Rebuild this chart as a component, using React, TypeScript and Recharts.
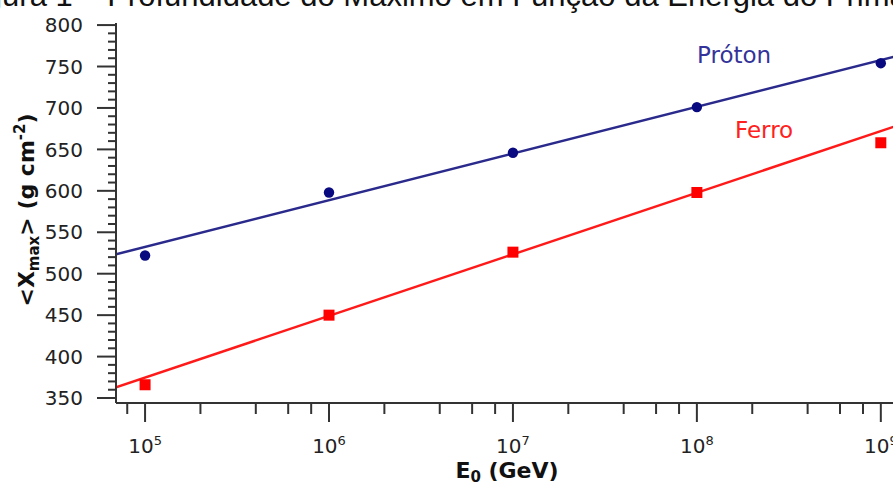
import React from 'react';
import { ComposedChart, Line, Scatter, XAxis, YAxis } from 'recharts';

// energies (GeV) of the simulated points
const energies = [1e5, 1e6, 1e7, 1e8, 1e9];
const protonXmax = [522, 598, 646, 701, 754];
const ironXmax = [366, 450, 526, 598, 658];

// fitted straight lines, read at the left and right edges of the plot
const fitEnergy = [69500, 1.24e9];
const protonFit = [523.5, 763];
const ironFit = [363, 679];

const xMajorTicks = [1e5, 1e6, 1e7, 1e8, 1e9];
const xMinorTicks = [
  8e4, 2e5, 4e5, 6e5, 8e5, 2e6, 4e6, 6e6, 8e6, 2e7, 4e7, 6e7, 8e7, 2e8, 4e8, 6e8, 8e8,
];
const yMajorTicks = [350, 400, 450, 500, 550, 600, 650, 700, 750, 800];
const yMinorStep = 10;

const X_DOMAIN: [number, number] = [fitEnergy[0], fitEnergy[1]];
const Y_DOMAIN: [number, number] = [344, 802.5];

const toRows = (xs: number[], vs: number[]) => xs.map((e, i) => ({ e, v: vs[i] }));

const protonPts = toRows(energies, protonXmax);
const ironPts = toRows(energies, ironXmax);
const protonLine = toRows(fitEnergy, protonFit);
const ironLine = toRows(fitEnergy, ironFit);

const yTicks: number[] = [];
for (let v = yMajorTicks[0]; v <= yMajorTicks[yMajorTicks.length - 1]; v += yMinorStep) yTicks.push(v);
const xTicks = [...xMinorTicks, ...xMajorTicks].sort((a, b) => a - b);

const AXIS = '#333';
const LABEL = '#222';

const XTick = (props: any) => {
  const { x, y, payload } = props;
  const val = payload.value;
  const major = xMajorTicks.includes(val);
  const exp = Math.round(Math.log10(val));
  return (
    <g>
      <line x1={x} x2={x} y1={y} y2={y + (major ? 19 : 11)} stroke={AXIS} strokeWidth={2} />
      {major && (
        <text x={x} y={y + 50} textAnchor="middle" fontSize={20} fill={LABEL}>
          10
          <tspan fontSize={13} dy={-8}>{exp}</tspan>
        </text>
      )}
    </g>
  );
};

const YTick = (props: any) => {
  const { x, y, payload } = props;
  const val = payload.value;
  const major = yMajorTicks.includes(val);
  return (
    <g>
      <line x1={x - (major ? 19 : 8)} x2={x} y1={y} y2={y} stroke={AXIS} strokeWidth={2} />
      {major && (
        <text x={x - 33} y={y} dy="0.36em" textAnchor="end" fontSize={20} fill={LABEL}>
          {val}
        </text>
      )}
    </g>
  );
};

const Circle = (props: any) => <circle cx={props.cx} cy={props.cy} r={5.2} fill="#0a0a80" />;
const Square = (props: any) => (
  <rect x={props.cx - 5.5} y={props.cy - 5.5} width={11} height={11} fill="#ff0000" />
);

export default function App() {
  return (
    <div
      style={{
        position: 'fixed',
        left: 0,
        top: 0,
        width: 893,
        height: 484,
        overflow: 'hidden',
        background: '#fff',
        fontFamily: '"DejaVu Sans", sans-serif',
      }}
    >
      <div
        style={{
          position: 'absolute',
          left: -41,
          top: -20,
          fontFamily: '"Liberation Sans", Arial, sans-serif',
          fontSize: 31,
          lineHeight: '31px',
          whiteSpace: 'nowrap',
          color: '#111',
        }}
      >
        Figura 1 – Profundidade do Máximo em Função da Energia do Primário
      </div>
      <div style={{ position: 'absolute', left: 0, top: 0 }}>
        <ComposedChart width={920} height={484} margin={{ top: 23, right: 22, bottom: 0, left: 0 }}>
          <XAxis
            xAxisId="main"
            dataKey="e"
            type="number"
            scale="log"
            domain={X_DOMAIN}
            allowDataOverflow
            ticks={xTicks}
            interval={0}
            tick={<XTick />}
            tickLine={false}
            tickSize={0}
            tickMargin={0}
            height={81}
            axisLine={{ stroke: AXIS, strokeWidth: 2 }}
          />
          <XAxis
            xAxisId="top"
            orientation="top"
            dataKey="e"
            type="number"
            scale="log"
            domain={X_DOMAIN}
            allowDataOverflow
            tick={false}
            tickLine={false}
            height={0}
            axisLine={{ stroke: '#555', strokeWidth: 2 }}
          />
          <YAxis
            dataKey="v"
            type="number"
            domain={Y_DOMAIN}
            allowDataOverflow
            ticks={yTicks}
            interval={0}
            tick={<YTick />}
            tickLine={false}
            tickSize={0}
            tickMargin={0}
            width={116}
            axisLine={{ stroke: AXIS, strokeWidth: 2 }}
          />
          <Line
            xAxisId="main"
            data={protonLine}
            dataKey="v"
            stroke="#2a2a8c"
            strokeWidth={2.5}
            dot={false}
            isAnimationActive={false}
          />
          <Line
            xAxisId="main"
            data={ironLine}
            dataKey="v"
            stroke="#ff1a1a"
            strokeWidth={2.5}
            dot={false}
            isAnimationActive={false}
          />
          <Scatter xAxisId="main" data={protonPts} dataKey="v" shape={<Circle />} isAnimationActive={false} />
          <Scatter xAxisId="main" data={ironPts} dataKey="v" shape={<Square />} isAnimationActive={false} />
        </ComposedChart>
      </div>
      <svg
        width={893}
        height={484}
        style={{ position: 'absolute', left: 0, top: 0, pointerEvents: 'none' }}
      >
        <text x={697} y={63} fontSize={23} fill="#33339a">
          Próton
        </text>
        <text x={735} y={138} fontSize={23} fill="#ff2020">
          Ferro
        </text>
        <text x={507} y={478} textAnchor="middle" fontSize={22} fontWeight="bold" fill="#111">
          E
          <tspan fontSize={15} dy={4}>0</tspan>
          <tspan dy={-4}> (GeV)</tspan>
        </text>
        <text
          transform="translate(34,210) rotate(-90)"
          x={0}
          y={0}
          textAnchor="middle"
          fontSize={22}
          fontWeight="bold"
          fill="#111"
        >
          {'<X'}
          <tspan fontSize={15} dy={5}>max</tspan>
          <tspan dy={-5}>{'> (g cm'}</tspan>
          <tspan fontSize={15} dy={-9}>-2</tspan>
          <tspan dy={9}>)</tspan>
        </text>
      </svg>
    </div>
  );
}
